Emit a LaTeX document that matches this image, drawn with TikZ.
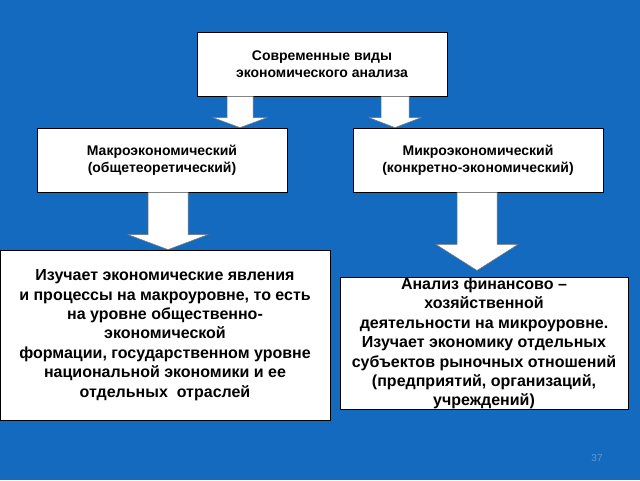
\documentclass[tikz,border=0pt]{standalone}
\usepackage{fontspec}
\setmainfont{Liberation Sans}
\usetikzlibrary{positioning,calc}
\definecolor{slideblue}{RGB}{20,106,190}
\definecolor{pagegrey}{RGB}{105,150,205}

\newcommand{\blockarr}[5]{%
  \path[fill=white,draw=black!55,line width=0.5pt] let \p1=(#1), \p2=(#2) in
    (\x1-#3,\y1) -- (\x1+#3,\y1) -- (\x1+#3,\y2+#5) -- (\x1+#4,\y2+#5)
    -- (\x1,\y2) -- (\x1-#4,\y2+#5) -- (\x1-#3,\y2+#5) -- cycle;}

\begin{document}
\begin{tikzpicture}[
x=1pt,y=-1pt,
kind/.style={draw=black, line width=0.8pt, fill=white, minimum width=250pt, minimum height=64pt,
  align=center, font=\fontsize{14}{17.5}\selectfont\bfseries},
desc/.style={draw=black, line width=0.8pt, fill=white, inner sep=0pt, align=center,
  font=\fontsize{16}{19.4}\selectfont\bfseries}
]
\fill[slideblue] (0,0) rectangle (640,480);
\useasboundingbox (0,0) rectangle (640,480);

\node[kind] (top) at (322,64) {Современные виды\\экономического анализа};
\node[kind] (macro) at (162,160) {Макроэкономический\\(общетеоретический)};
\node[kind] (micro) at (478,160) {Микроэкономический\\(конкретно-экономический)};

\node[desc, minimum width=330pt, minimum height=170pt] (macdesc) at (165,335)
  {Изучает экономические явления\\
   и процессы на макроуровне, то есть\\
   на уровне общественно-\\
   экономической\\
   формации, государственном уровне\\
   национальной экономики и ее\\
   отдельных\ \ отраслей};
\node[desc, minimum width=288pt, minimum height=127pt] (micdesc) at (484,343.5)
  {Анализ финансово –\\
   хозяйственной\\
   деятельности на микроуровне.\\
   Изучает экономику отдельных\\
   субъектов рыночных отношений\\
   (предприятий, организаций,\\
   учреждений)};

\coordinate (a1) at ($(top.south)+(-82,0)$);
\coordinate (a2) at ($(top.south)+(73,0)$);
\coordinate (a3) at ($(macro.south)+(6,0)$);
\coordinate (a4) at ($(micro.south)+(-1,0)$);
\coordinate (a4end) at ($(a4 |- micdesc.north)+(0,-7)$);

\blockarr{a1}{a1 |- macro.north}{13pt}{27pt}{10pt}
\blockarr{a2}{a2 |- micro.north}{14pt}{26pt}{10pt}
\blockarr{a3}{a3 |- macdesc.north}{20pt}{40pt}{15pt}
\blockarr{a4}{a4end}{20pt}{41pt}{26pt}

\node[text=pagegrey, font=\fontsize{10}{12}\selectfont] (pnum) at (597,458) {37};
\end{tikzpicture}
\end{document}
